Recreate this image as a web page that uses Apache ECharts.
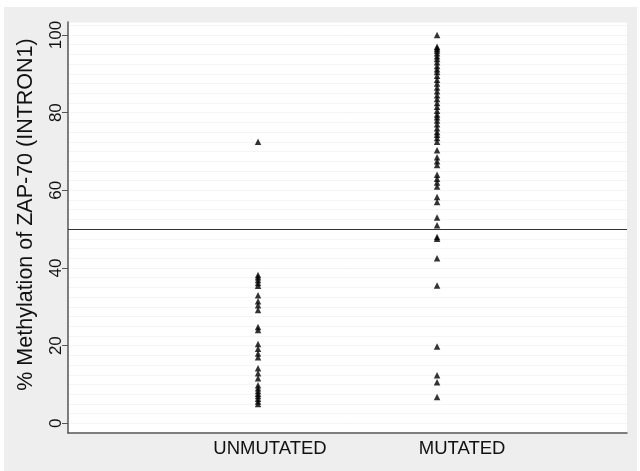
<!DOCTYPE html>
<html>
<head>
<meta charset="utf-8">
<script src="https://cdn.jsdelivr.net/npm/echarts@6/dist/echarts.min.js"></script>
<style>
html,body{margin:0;padding:0;background:#fff;}
#main{width:640px;height:471px;}
</style>
</head>
<body>
<div id="main"></div>
<script>
// ---- data ----
var groups = ['UNMUTATED', 'MUTATED'];
var unmutated = [72.5, 38.2, 37.6, 36.9, 36.1, 35.4, 33, 31.4, 30.4, 29.2, 24.8, 24, 20.4, 19.2, 18, 17,
  14.2, 12.9, 11.6, 9.8, 9.0, 8.3, 7.6, 7.0, 6.3, 5.6, 5.0];
var mutated = [100, 97, 96.5, 96, 95.3, 94.5, 93.8, 93, 92, 91.2, 90.5, 89.5, 88.5, 87.5, 86.5, 85.5,
  84.5, 83.5, 82.5, 81.5, 80.5, 79.5, 78.8, 78, 77, 76, 75, 74.3, 73.5, 72.5, 70.3, 68.5, 67.5, 66.5,
  64, 63, 62, 61, 58.3, 57, 53, 51, 48, 47.5, 42.5, 35.5, 19.8, 12.4, 10.6, 6.8];
var yTicks = [0, 20, 40, 60, 80, 100];
var cutoff = 50;

var chart = echarts.init(document.getElementById('main'), null, {renderer: 'canvas'});
function pts(arr, x) { return arr.map(function (v) { return [x, v]; }); }
var font = 'Liberation Sans, Arial, sans-serif';
var labelAt = [1.067, 2.14];

chart.setOption({
  backgroundColor: '#ffffff',
  animation: false,
  graphic: [{
    type: 'rect', z: -10, silent: true,
    shape: {x: 4, y: 7, width: 633, height: 464},
    style: {fill: '#eeeeee'}
  }],
  grid: {left: 68, right: 13, top: 22, bottom: 38, show: true, backgroundColor: '#ffffff', borderWidth: 0},
  xAxis: {
    type: 'value', min: -0.0615, max: 3.061,
    axisLine: {show: true, onZero: false, lineStyle: {color: '#555', width: 1.5}},
    axisTick: {show: false, customValues: labelAt},
    splitLine: {show: false},
    axisLabel: {
      customValues: labelAt,
      formatter: function (v) {
        var best = 0;
        for (var i = 1; i < labelAt.length; i++) {
          if (Math.abs(labelAt[i] - v) < Math.abs(labelAt[best] - v)) best = i;
        }
        return groups[best];
      },
      color: '#111', fontFamily: font, fontSize: 18.5, margin: 6
    }
  },
  yAxis: [{
    type: 'value', min: -2.5, max: 103.35,
    name: '% Methylation of ZAP-70 (INTRON1)',
    nameLocation: 'middle', nameGap: 31,
    nameTextStyle: {color: '#111', fontFamily: font, fontSize: 21.5, padding: [0, 0, 0, 26]},
    axisLine: {show: true, onZero: false, lineStyle: {color: '#555', width: 1.5}},
    axisTick: {show: true, length: 6, lineStyle: {color: '#555'}, customValues: yTicks},
    axisLabel: {customValues: yTicks, rotate: 90, color: '#111', fontFamily: font, fontSize: 17, margin: 3},
    splitLine: {show: true, lineStyle: {color: '#e4e4e4', width: 1}}
  }, {
    type: 'value', min: -2.5, max: 103.35, interval: 2.5, position: 'left',
    axisLine: {show: false, onZero: false}, axisTick: {show: false}, axisLabel: {show: false},
    splitLine: {show: true, lineStyle: {color: '#f5f5f5', width: 1}}
  }],
  series: [{
    type: 'scatter', name: groups[0], data: pts(unmutated, 1),
    symbol: 'triangle', symbolSize: 6.5, itemStyle: {color: '#000'}, z: 5,
    markLine: {
      silent: true, symbol: 'none', label: {show: false},
      lineStyle: {color: '#333', width: 1.2, type: 'solid'},
      data: [{yAxis: cutoff}]
    }
  }, {
    type: 'scatter', name: groups[1], data: pts(mutated, 2),
    symbol: 'triangle', symbolSize: 6.5, itemStyle: {color: '#000'}, z: 5
  }]
});
</script>
</body>
</html>
